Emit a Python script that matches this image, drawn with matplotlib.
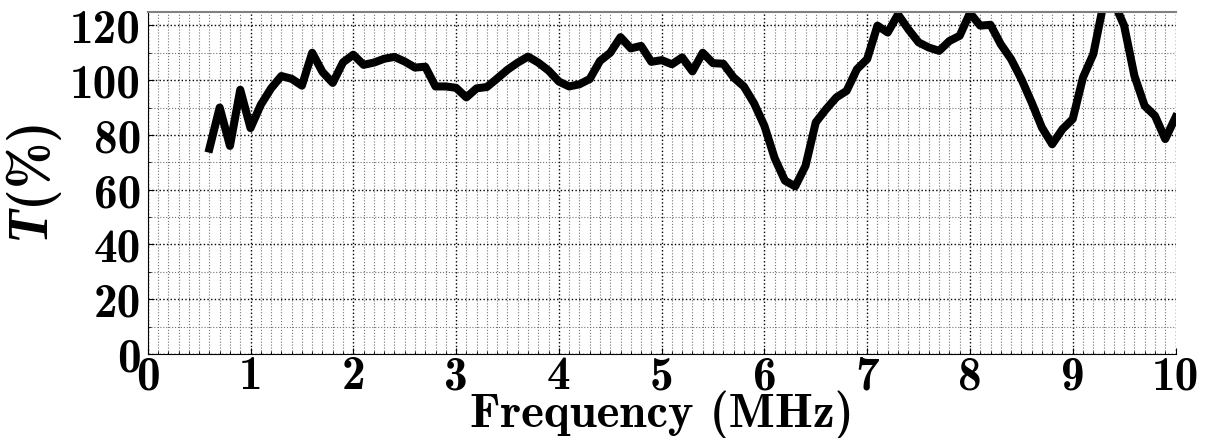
import matplotlib
matplotlib.use("Agg")
import matplotlib.pyplot as plt
from matplotlib.ticker import MultipleLocator

# transmission vs frequency
freq = [0.6, 0.7, 0.8, 0.9, 1.0, 1.1, 1.2, 1.3, 1.4, 1.5, 1.6, 1.7, 1.8, 1.9,
        2.0, 2.1, 2.2, 2.3, 2.4, 2.5, 2.6, 2.7, 2.8, 2.9, 3.0, 3.1, 3.2, 3.3,
        3.4, 3.5, 3.6, 3.7, 3.8, 3.9, 4.0, 4.1, 4.2, 4.3, 4.4, 4.5, 4.6, 4.7,
        4.8, 4.9, 5.0, 5.1, 5.2, 5.3, 5.4, 5.5, 5.6, 5.7, 5.8, 5.9, 6.0, 6.1,
        6.2, 6.3, 6.4, 6.5, 6.6, 6.7, 6.8, 6.9, 7.0, 7.1, 7.2, 7.3, 7.4, 7.5,
        7.6, 7.7, 7.8, 7.9, 8.0, 8.1, 8.2, 8.3, 8.4, 8.5, 8.6, 8.7, 8.8, 8.9,
        9.0, 9.1, 9.2, 9.3, 9.4, 9.5, 9.6, 9.7, 9.8, 9.9, 10.0]
trans = [75, 90, 76, 96.5, 82.5, 91, 97, 101.5, 100.5, 98, 110, 103, 99, 106.5,
         109.3, 105.6, 106.4, 107.8, 108.5, 106.8, 104.6, 104.9, 97.7, 97.7, 97.2, 93.7, 97, 97.5,
         100.6, 103.8, 106.4, 108.6, 106.4, 103.5, 99.5, 97.7, 98.5, 100.4, 107, 110, 115.7, 111.6,
         112.5, 106.7, 107.3, 105.8, 108.3, 103.2, 110, 106.2, 106, 101, 97.7, 91.5, 83.3, 71.5,
         63.3, 61.2, 68.7, 84.6, 89.4, 93.7, 96.1, 104, 107.7, 119.9, 117.4, 124, 118.6, 113.8,
         111.9, 110.7, 114.3, 116.2, 124.5, 119.9, 120.2, 113.1, 107.7, 100.4, 91.9, 82.7, 76.6, 82.1,
         85.8, 101, 109.5, 128, 128.5, 119.9, 101.6, 90.6, 87, 78.5, 86.4]

plt.rcParams['font.family'] = 'cmb10'
plt.rcParams['mathtext.fontset'] = 'custom'
plt.rcParams['mathtext.it'] = 'Liberation Serif:italic:bold'
plt.rcParams['mathtext.rm'] = 'cmb10'

fig = plt.figure(figsize=(12.08, 4.39), dpi=100)
ax = fig.add_axes([0.1223, 0.1913, 0.8508, 0.7798])

ax.plot(freq, trans, color='k', lw=5.8)

ax.set_xlim(0, 10)
ax.set_ylim(0, 125)
ax.xaxis.set_major_locator(MultipleLocator(1))
ax.xaxis.set_minor_locator(MultipleLocator(0.1))
ax.yaxis.set_major_locator(MultipleLocator(20))
ax.yaxis.set_minor_locator(MultipleLocator(10))

ax.grid(which='major', color='k', linestyle=':', lw=1.0)
ax.grid(which='minor', color='0.45', linestyle=':', lw=0.8)
ax.tick_params(which='both', direction='in', labelsize=34)
ax.tick_params(which='major', length=4)
ax.tick_params(which='minor', length=2)
ax.tick_params(axis='x', pad=1)
ax.tick_params(axis='y', pad=5)

ax.spines['right'].set_visible(False)
ax.spines['top'].set_color('0.5')
ax.spines['top'].set_linewidth(1.5)

ax.set_xlabel('Frequency (MHz)', fontsize=35, labelpad=-6)
ax.set_ylabel(r'$T$(%)', fontsize=40, labelpad=4)

fig.savefig('out.png', dpi=100)
